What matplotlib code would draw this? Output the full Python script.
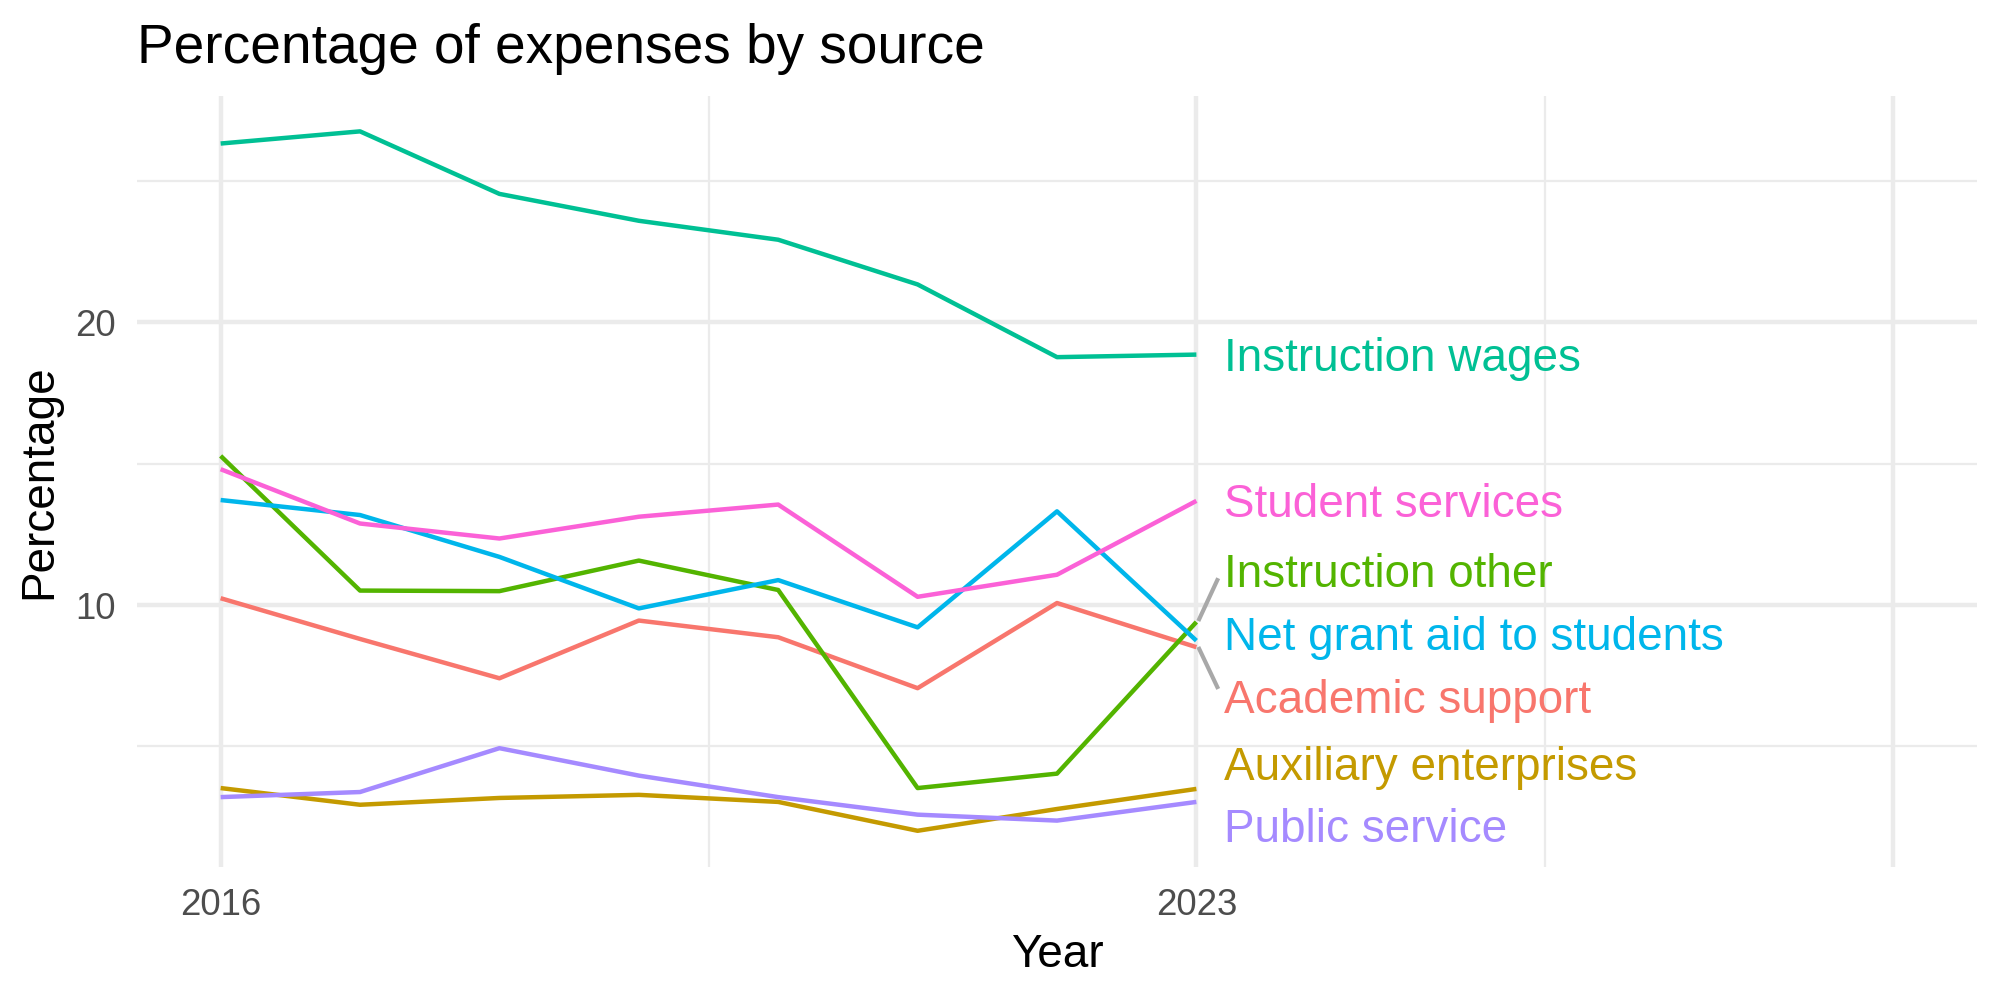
import matplotlib
matplotlib.use("Agg")
import matplotlib.pyplot as plt

plt.rcParams['font.family'] = ['Liberation Sans', 'DejaVu Sans']

years = [2016, 2017, 2018, 2019, 2020, 2021, 2022, 2023]

academic_support = [10.24, 8.80, 7.41, 9.45, 8.86, 7.06, 10.07, 8.51]
auxiliary_enterprises = [3.53, 2.94, 3.18, 3.29, 3.04, 2.02, 2.79, 3.50]
instruction_other = [15.27, 10.51, 10.49, 11.57, 10.53, 3.53, 4.04, 9.40]
instruction_wages = [26.31, 26.74, 24.53, 23.58, 22.91, 21.33, 18.76, 18.85]
net_grant_aid = [13.71, 13.18, 11.70, 9.88, 10.88, 9.21, 13.31, 8.74]
public_service = [3.21, 3.39, 4.94, 3.97, 3.21, 2.59, 2.38, 3.04]
student_services = [14.80, 12.88, 12.35, 13.12, 13.55, 10.29, 11.07, 13.68]

sources = ["Academic support", "Auxiliary enterprises", "Instruction other",
           "Instruction wages", "Net grant aid to students", "Public service",
           "Student services"]
series = [academic_support, auxiliary_enterprises, instruction_other,
          instruction_wages, net_grant_aid, public_service, student_services]
# ggplot default hue palette for 7 groups
colors = ["#F8766D", "#C49A00", "#53B400", "#00C094", "#00B6EB", "#A58AFF", "#FB61D7"]

# repelled label positions (y) at the right end
label_y = [6.6, 4.23, 11.05, 18.7, 8.82, 2.04, 13.53]

fig = plt.figure(figsize=(20 / 3, 10 / 3), dpi=300)
ax = fig.add_axes([0.0685, 0.133, 0.92, 0.771])

grid_col = "#EBEBEB"
for x in [2016, 2023, 2028]:
    ax.axvline(x, color=grid_col, lw=1.07, zorder=0)
for x in [2019.5, 2025.5]:
    ax.axvline(x, color=grid_col, lw=0.53, zorder=0)
for y in [10, 20]:
    ax.axhline(y, color=grid_col, lw=1.07, zorder=0)
for y in [5, 15, 25]:
    ax.axhline(y, color=grid_col, lw=0.53, zorder=0)

for name, vals, col, ly in zip(sources, series, colors, label_y):
    ax.plot(years, vals, color=col, lw=1.07, solid_capstyle='butt', zorder=2)
    ax.text(2023.2, ly, name, color=col, fontsize=11, ha='left', va='center', zorder=3)
    # connector segment when the label was pushed away from the line end
    if abs(ly - vals[-1]) > 1.0:
        if ly > vals[-1]:
            y0, y1 = vals[-1] + 0.1, ly - 0.17
        else:
            y0, y1 = vals[-1] - 0.06, ly + 0.5
        ax.plot([2023.02, 2023.15], [y0, y1], color="#A8A8A8", lw=1.0, zorder=1)

ax.set_xlim(2015.4, 2028.6)
ax.set_ylim(0.74, 27.99)
ax.set_xticks([2016, 2023])
ax.set_xticklabels(["2016", "2023"])
ax.set_yticks([10, 20])
ax.set_yticklabels(["10", "20"])
ax.tick_params(length=0, labelsize=8.8, labelcolor="#4D4D4D", pad=5)
for s in ax.spines.values():
    s.set_visible(False)

ax.set_xlabel("Year", fontsize=11, labelpad=2.5)
ax.set_ylabel("Percentage", fontsize=11, labelpad=3.5)
fig.text(0.0685, 1 - 63 / 1000, "Percentage of expenses by source",
         fontsize=13.2, ha='left', va='baseline')

fig.savefig("out.png", dpi=300, facecolor="white")
